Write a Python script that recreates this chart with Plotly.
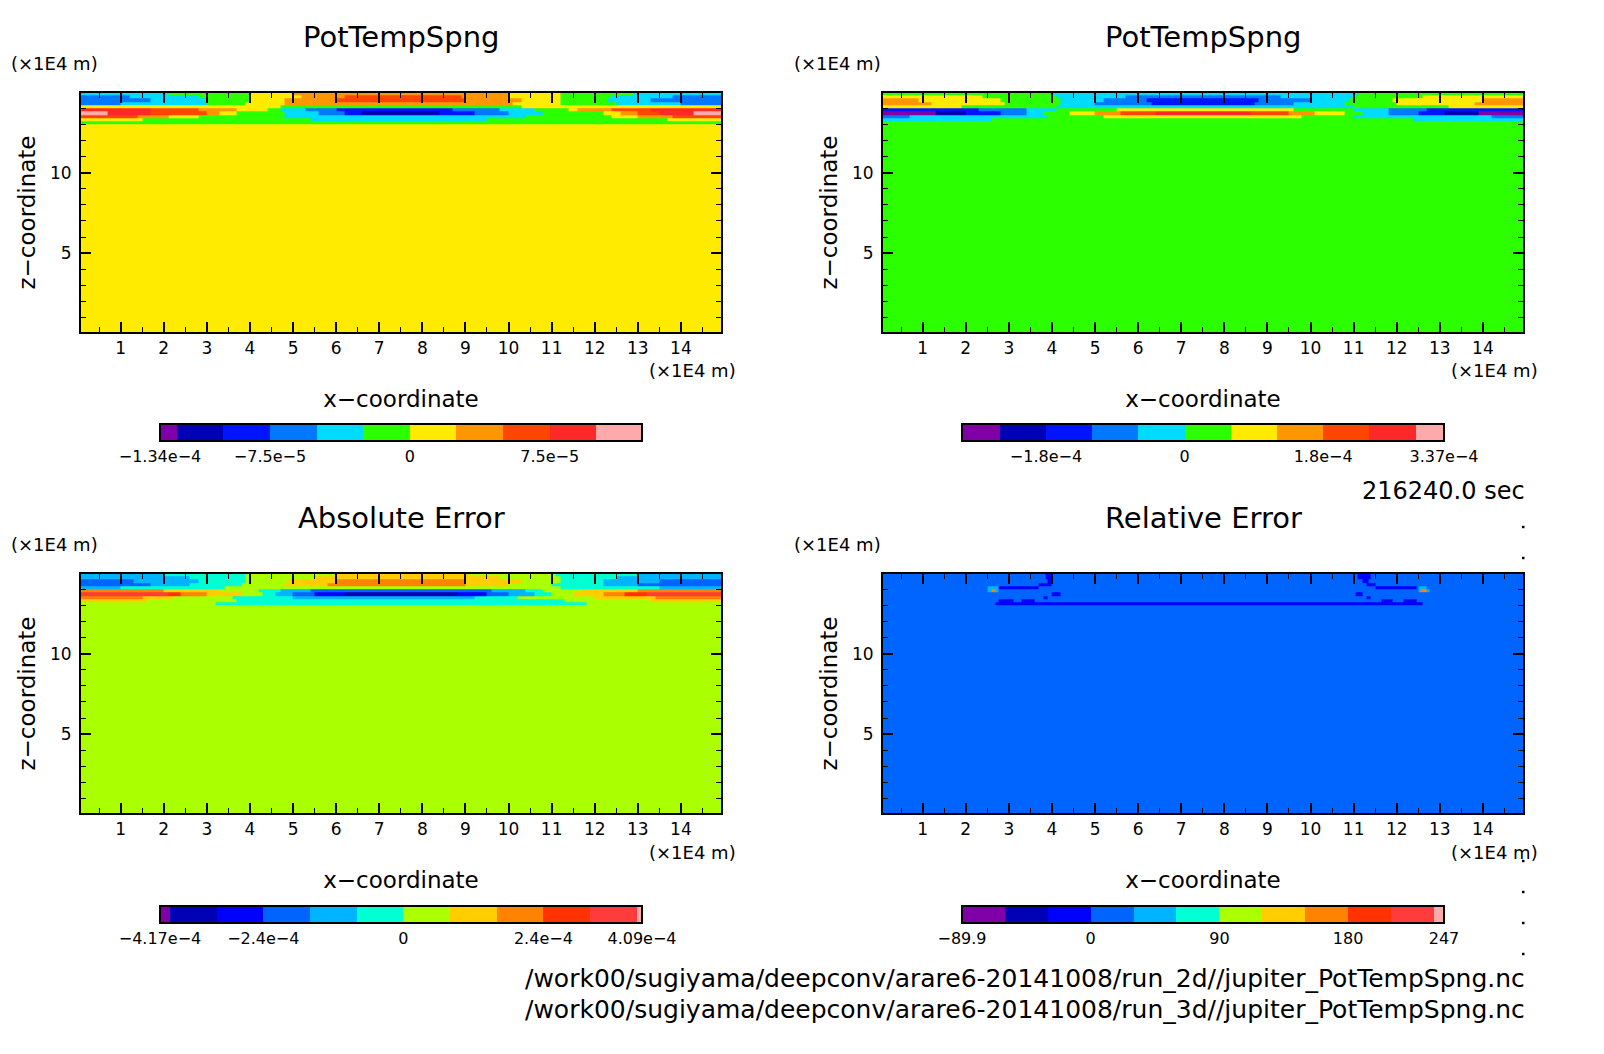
import numpy as np
import plotly.graph_objects as go

# page has an 8px body margin, so the figure is 16px smaller than the window
WIN_W, WIN_H = 1604, 1054
BODY = 8
FONT = "DejaVu Sans"

COLORS_A = ["#8000A8", "#0000B4", "#0014FF", "#0078FF", "#00DCFF", "#2CFF00",
            "#FFEB00", "#FF9600", "#FF4600", "#FF2828", "#FFAAAA"]
COLORS_B = ["#8000A8", "#0000B4", "#0000FF", "#0064FF", "#00B4FF", "#00FFD2",
            "#AAFF00", "#FFCD00", "#FF8200", "#FF3200", "#FF3C3C", "#FFAAAA"]

# contour levels of each panel (band edges)
LEVELS_1 = [-1.34e-4, -1.25e-4, -1.0e-4, -7.5e-5, -5e-5, -2.5e-5, 0, 2.5e-5, 5e-5, 7.5e-5, 1.0e-4, 1.245e-4]
LEVELS_2 = [-2.89e-4, -2.4e-4, -1.8e-4, -1.2e-4, -6e-5, 0, 6e-5, 1.2e-4, 1.8e-4, 2.4e-4, 3.0e-4, 3.37e-4]
LEVELS_3 = [-4.17e-4, -4e-4, -3.2e-4, -2.4e-4, -1.6e-4, -8e-5, 0, 8e-5, 1.6e-4, 2.4e-4, 3.2e-4, 4e-4, 4.09e-4]
LEVELS_4 = [-89.9, -60, -30, 0, 30, 60, 90, 120, 150, 180, 210, 240, 247]

TICKS_1 = [-1.34e-4, -7.5e-5, 0, 7.5e-5]
TICK_TEXT_1 = ["−1.34e−4", "−7.5e−5", "0", "7.5e−5"]
TICKS_2 = [-1.8e-4, 0, 1.8e-4, 3.37e-4]
TICK_TEXT_2 = ["−1.8e−4", "0", "1.8e−4", "3.37e−4"]
TICKS_3 = [-4.17e-4, -2.4e-4, 0, 2.4e-4, 4.09e-4]
TICK_TEXT_3 = ["−4.17e−4", "−2.4e−4", "0", "2.4e−4", "4.09e−4"]
TICKS_4 = [-89.9, 0, 90, 180, 247]
TICK_TEXT_4 = ["−89.9", "0", "90", "180", "247"]

# rows of the top layer, top row first: (x end, band index) runs, x in 1E4 m
Z_EDGES = [0, 13.0, 13.2, 13.4, 13.6, 13.8, 14.0, 14.2, 14.4, 14.6, 14.8, 15.0]

ROWS_1 = [
    [(2.1, 4), (4.0, 5), (5.0, 6), (10.0, 7), (11.2, 6), (12.9, 5), (15, 4)],
    [(1.2, 3), (2.8, 4), (4.0, 5), (5.2, 6), (6.2, 7), (8.9, 8), (10.0, 7), (11.2, 6), (12.4, 5), (13.8, 4), (15, 3)],
    [(1.7, 3), (3.0, 4), (4.0, 5), (4.8, 6), (6.0, 7), (9.0, 8), (10.3, 7), (11.2, 6), (12.3, 5), (13.3, 4), (15, 3)],
    [(1.0, 3), (3.0, 4), (3.9, 5), (4.8, 6), (10.1, 7), (11.2, 6), (12.5, 5), (14.0, 4), (15, 3)],
    [(4.7, 6), (10.3, 5), (15, 6)],
    [(1.7, 9), (2.8, 8), (3.7, 7), (4.4, 6), (4.7, 5), (5.3, 4), (6.0, 3), (8.7, 2), (9.8, 3), (10.6, 4), (11.4, 5), (11.6, 6), (12.4, 7), (13.3, 8), (15, 9)],
    [(0.7, 10), (1.7, 9), (3.0, 8), (3.3, 7), (3.7, 6), (4.8, 5), (5.6, 4), (6.2, 3), (6.6, 2), (8.4, 1), (9.2, 2), (10.0, 3), (10.8, 4), (12.2, 5), (12.6, 6), (13.0, 7), (13.5, 8), (14.3, 9), (15, 10)],
    [(1.4, 8), (2.1, 7), (2.8, 6), (4.8, 5), (10.4, 4), (12.4, 5), (13.0, 6), (13.8, 7), (15, 8)],
    [(1.5, 6), (5.4, 5), (9.5, 4), (13.7, 5), (15, 6)],
    [(15, 5)],
]
ROWS_2 = [
    [(4.0, 5), (11.1, 4), (15, 5)],
    [(2.4, 6), (4.1, 5), (5.7, 4), (9.3, 3), (11.0, 4), (12.6, 5), (15, 6)],
    [(0.9, 7), (2.8, 6), (4.2, 5), (5.2, 4), (6.2, 3), (8.8, 2), (10.0, 3), (10.9, 4), (11.9, 5), (14.0, 6), (15, 7)],
    [(1.2, 7), (2.9, 6), (4.2, 5), (5.0, 4), (6.3, 3), (8.7, 2), (9.6, 3), (10.8, 4), (12.0, 5), (13.8, 6), (15, 7)],
    [(1.9, 6), (4.1, 5), (11.0, 4), (13.2, 5), (15, 6)],
    [(2.3, 2), (3.4, 3), (4.1, 4), (5.5, 5), (9.6, 6), (11.0, 5), (11.8, 4), (12.7, 3), (15, 2)],
    [(1.3, 0), (2.0, 1), (2.8, 2), (3.4, 3), (3.8, 4), (4.4, 5), (5.0, 6), (5.6, 7), (6.4, 8), (8.6, 9), (9.5, 8), (10.1, 7), (10.8, 6), (11.2, 5), (11.8, 4), (12.5, 3), (13.1, 2), (13.9, 1), (15, 0)],
    [(0.7, 3), (3.9, 4), (5.2, 5), (9.8, 6), (11.0, 5), (14.2, 4), (15, 3)],
    [(2.6, 4), (12.4, 5), (15, 4)],
    [(15, 5)],
]
ROWS_3 = [
    [(2.0, 4), (3.9, 5), (6.0, 6), (9.1, 7), (11.1, 6), (13.0, 5), (15, 4)],
    [(2.6, 4), (3.9, 5), (5.5, 6), (9.8, 7), (11.2, 6), (12.5, 5), (15, 4)],
    [(1.3, 3), (2.8, 4), (3.9, 5), (4.9, 6), (6.0, 7), (9.0, 8), (10.3, 7), (11.2, 6), (12.2, 5), (13.5, 4), (15, 3)],
    [(1.7, 3), (2.6, 4), (3.8, 5), (4.8, 6), (5.8, 7), (9.0, 8), (10.0, 7), (11.0, 6), (12.2, 5), (13.0, 4), (15, 3)],
    [(1.0, 4), (3.4, 5), (11.2, 6), (13.5, 5), (15, 4)],
    [(2.0, 8), (3.3, 7), (4.2, 6), (4.7, 5), (5.4, 4), (9.6, 3), (10.4, 4), (10.8, 5), (11.7, 6), (13.0, 7), (15, 8)],
    [(2.1, 10), (2.4, 9), (3.0, 8), (3.8, 7), (4.3, 6), (4.6, 5), (5.0, 4), (5.5, 3), (6.2, 2), (8.8, 1), (9.5, 2), (10.0, 3), (10.6, 4), (11.0, 5), (11.5, 6), (12.2, 7), (12.7, 8), (13.2, 9), (15, 10)],
    [(1.5, 8), (2.2, 7), (3.6, 6), (5.0, 5), (9.2, 4), (10.2, 5), (12.0, 6), (13.4, 7), (15, 8)],
    [(1.6, 7), (3.7, 6), (11.3, 5), (13.3, 6), (15, 7)],
    [(3.2, 6), (11.8, 5), (15, 6)],
]
ROWS_4 = [
    [(3.87, 3), (4.02, 2), (11.1, 3), (11.4, 2), (15, 3)],
    [(3.87, 3), (4.02, 2), (11.1, 3), (11.4, 2), (15, 3)],
    [(3.9, 3), (4.0, 2), (11.2, 3), (11.35, 2), (15, 3)],
    [(3.7, 3), (4.0, 2), (11.3, 3), (11.5, 2), (15, 3)],
    [(2.5, 3), (2.75, 4), (3.7, 2), (11.5, 3), (12.46, 2), (12.5, 3), (12.7, 4), (15, 3)],
    [(2.52, 3), (2.58, 4), (2.68, 8), (2.75, 4), (12.5, 3), (12.56, 4), (12.68, 8), (12.75, 4), (15, 3)],
    [(4.0, 3), (4.2, 2), (11.07, 3), (11.2, 2), (15, 3)],
    [(3.8, 3), (3.9, 2), (11.3, 3), (11.4, 2), (15, 3)],
    [(2.75, 3), (3.1, 2), (3.3, 3), (3.6, 2), (11.65, 3), (11.9, 2), (12.15, 3), (12.46, 2), (15, 3)],
    [(2.72, 3), (12.6, 2), (15, 3)],
]
BASE_BANDS = [6, 5, 6, 3]  # band below 13.0

TITLES = ["PotTempSpng", "PotTempSpng", "Absolute Error", "Relative Error"]
FILE_2D = "/work00/sugiyama/deepconv/arare6-20141008/run_2d//jupiter_PotTempSpng.nc"
FILE_3D = "/work00/sugiyama/deepconv/arare6-20141008/run_3d//jupiter_PotTempSpng.nc"
TIME_TEXT = "216240.0 sec"
STRAY_DOTS = [527, 558, 861, 892, 923, 954]

# pixel boxes (left, right, top, bottom) of plots and colour bars
PLOTS = [(81, 721, 93, 332), (883, 1523, 93, 332), (81, 721, 574, 813), (883, 1523, 574, 813)]
BARS = [(160, 642, 424, 441), (962, 1444, 424, 441), (160, 642, 906, 923), (962, 1444, 906, 923)]
UNIT_LABEL_X = [54, 837, 54, 837]

fig_w, fig_h = WIN_W - 2 * BODY, WIN_H - 2 * BODY


def fx(px):
    return (px - BODY) / fig_w


def fy(py):
    return 1 - (py - BODY) / fig_h


def step_scale(levels, colors):
    lo, hi = levels[0], levels[-1]
    scale = []
    for i, c in enumerate(colors):
        scale.append([(levels[i] - lo) / (hi - lo), c])
        scale.append([(levels[i + 1] - lo) / (hi - lo), c])
    return scale


# expand the runs on a fine x grid
x_edges = np.arange(0, 15.025, 0.05)
x_mid = (x_edges[:-1] + x_edges[1:]) / 2


def build_z(rows, levels, base):
    mids = [(levels[i] + levels[i + 1]) / 2 for i in range(len(levels) - 1)]
    z = [[mids[base]] * len(x_mid)]
    for row in reversed(rows):
        line = []
        for x in x_mid:
            for end, band in row:
                if x <= end:
                    line.append(mids[band])
                    break
        z.append(line)
    return z


fig = go.Figure()
panels = [
    (ROWS_1, LEVELS_1, COLORS_A, TICKS_1, TICK_TEXT_1),
    (ROWS_2, LEVELS_2, COLORS_A, TICKS_2, TICK_TEXT_2),
    (ROWS_3, LEVELS_3, COLORS_B, TICKS_3, TICK_TEXT_3),
    (ROWS_4, LEVELS_4, COLORS_B, TICKS_4, TICK_TEXT_4),
]

layout_axes = {}
annotations = []


def label(px, py, text, size, anchor="center"):
    annotations.append(dict(x=fx(px), y=fy(py), xref="paper", yref="paper", text=text,
                            showarrow=False, xanchor=anchor, yanchor="middle",
                            font=dict(family=FONT, size=size, color="black")))


for i, (rows, levels, colors, ticks, tick_text) in enumerate(panels):
    left, right, top, bottom = PLOTS[i]
    b_left, b_right, b_top, b_bottom = BARS[i]
    n = i + 1
    fig.add_trace(go.Heatmap(
        x=x_edges, y=Z_EDGES, z=build_z(rows, levels, BASE_BANDS[i]),
        xaxis=f"x{n}", yaxis=f"y{n}",
        zmin=levels[0], zmax=levels[-1], colorscale=step_scale(levels, colors),
        hoverinfo="skip",
        colorbar=dict(orientation="h", lenmode="pixels", len=b_right - b_left,
                      thickness=b_bottom - b_top, x=fx((b_left + b_right) / 2), xanchor="center",
                      y=fy(b_top), yanchor="top", xpad=0, ypad=0,
                      outlinecolor="black", outlinewidth=2, borderwidth=0,
                      tickmode="array", tickvals=ticks, ticktext=tick_text, ticks="",
                      tickfont=dict(family=FONT, size=16, color="black")),
    ))
    axis_common = dict(showgrid=False, zeroline=False, showline=True, linecolor="black", linewidth=2,
                       mirror="ticks", ticks="inside", tickwidth=2, tickcolor="black",
                       tickfont=dict(family=FONT, size=17, color="black"))
    layout_axes[f"xaxis{n}"] = dict(
        axis_common, domain=[fx(left), fx(right)], anchor=f"y{n}", range=[0.08, 14.93],
        tick0=0, dtick=1, ticklen=10, ticklabelstandoff=0,
        minor=dict(ticks="inside", dtick=0.5, tick0=0, ticklen=5, tickwidth=1, tickcolor="black", showgrid=False),
        title=dict(text="x−coordinate", standoff=33, font=dict(family=FONT, size=23, color="black")),
    )
    layout_axes[f"yaxis{n}"] = dict(
        axis_common, domain=[fy(bottom), fy(top)], anchor=f"x{n}", range=[0.1, 14.95],
        tickvals=[5, 10], ticklen=10, ticklabelstandoff=4,
        minor=dict(ticks="inside", dtick=1, tick0=0, ticklen=5, tickwidth=1, tickcolor="black", showgrid=False),
        title=dict(text="z−coordinate", standoff=8, font=dict(family=FONT, size=23, color="black")),
    )
    label((left + right) / 2, top - 56, TITLES[i], 29)
    label(UNIT_LABEL_X[i], top - 30, "(×1E4 m)", 18, "center")
    label(right - 29, bottom + 39, "(×1E4 m)", 18, "center")

label(1527, 491, TIME_TEXT, 24, "right")
label(1527, 978, FILE_2D, 25, "right")
label(1527, 1009, FILE_3D, 25, "right")

# small stray dots along the right edge of the page
dots = [dict(type="rect", xref="paper", yref="paper", x0=fx(1522), x1=fx(1524.5),
             y0=fy(py - 1.2), y1=fy(py + 1.2), fillcolor="black", line_width=0)
        for py in STRAY_DOTS]

fig.update_layout(
    width=fig_w, height=fig_h, margin=dict(l=0, r=0, t=0, b=0),
    paper_bgcolor="white", plot_bgcolor="white", showlegend=False,
    annotations=annotations, shapes=dots, **layout_axes,
)

fig.write_html("out.html")
